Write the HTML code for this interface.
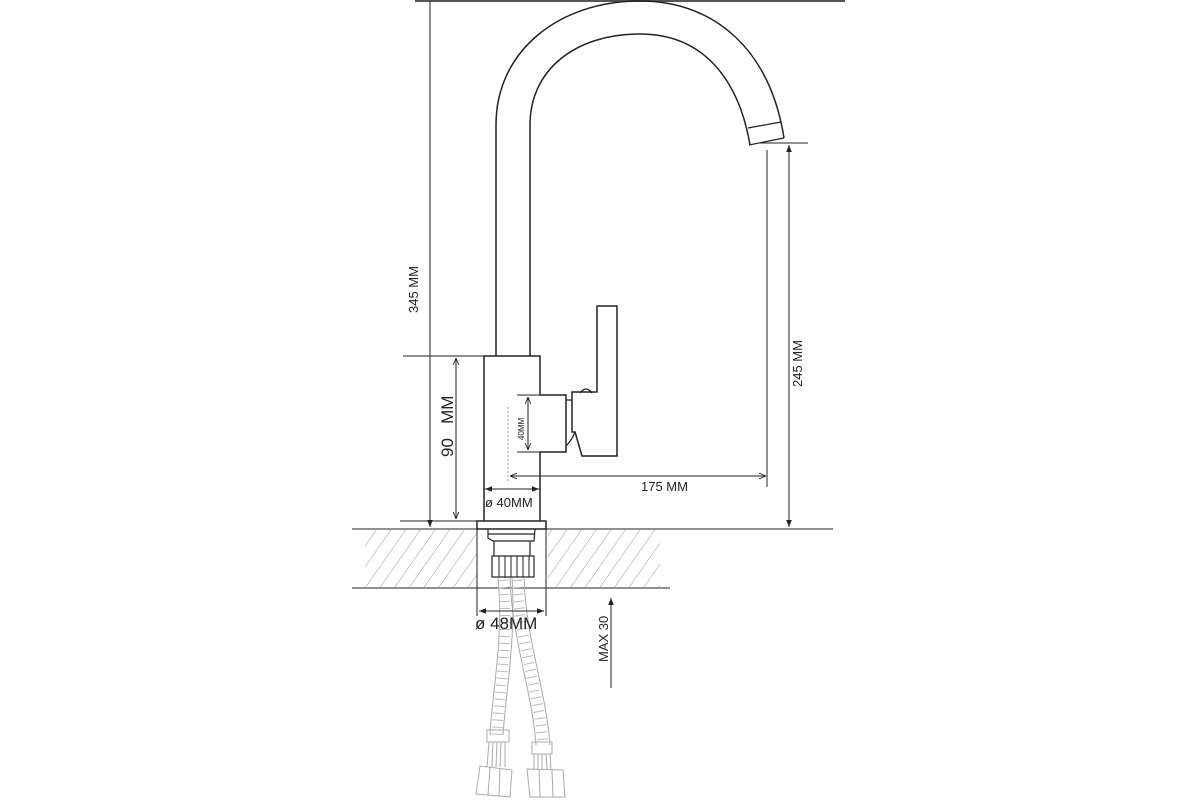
<!DOCTYPE html>
<html><head><meta charset="utf-8"><style>
html,body{margin:0;padding:0;background:#fff;width:1200px;height:800px;overflow:hidden}
svg{display:block}
text{font-family:"Liberation Sans",Arial,sans-serif;fill:#222}
</style></head><body>
<svg width="1200" height="800" viewBox="0 0 1200 800" xmlns="http://www.w3.org/2000/svg">
<defs>
<marker id="a" viewBox="0 0 10 10" refX="10" refY="5" markerWidth="7" markerHeight="7" orient="auto-start-reverse"><path d="M0,1 L10,5 L0,9 z" fill="#222"/></marker>
<marker id="o" viewBox="0 0 10 10" refX="10" refY="5" markerWidth="7" markerHeight="7" orient="auto-start-reverse"><path d="M0,1 L10,5 L0,9" fill="none" stroke="#222" stroke-width="1.2"/></marker>
<pattern id="h" width="12" height="12" patternUnits="userSpaceOnUse" patternTransform="rotate(35)"><line x1="0" y1="0" x2="0" y2="12" stroke="#999" stroke-width="1"/></pattern>
</defs>
<g fill="none" stroke="#222" stroke-width="1">
<!-- hatching -->
<rect x="365" y="530" width="112" height="57" fill="url(#h)" stroke="none"/>
<rect x="548" y="530" width="112" height="57" fill="url(#h)" stroke="none"/>
<line x1="352" y1="529" x2="833" y2="529"/>
<line x1="352" y1="588" x2="670" y2="588"/>
<!-- top line -->
<line x1="415" y1="1" x2="845" y2="1" stroke="#555" stroke-width="2"/>
<!-- spout -->
<path d="M496,356 L496,125 C496,50 560,1 640,1 C715,1 770,50 784,138" stroke-width="1.5"/>
<path d="M530,356 L530,125 C530,70 575,34 640,34 C700,34 738,75 750,145" stroke-width="1.5"/>
<path d="M749,145 L784,138 M748,128 L781,122" stroke-width="1.2"/>
<!-- body -->
<path d="M484,521 L484,356 L540,356 L540,395 L566,395 L566,452 L540,452 L540,521" stroke-width="1.5"/>
<!-- handle -->
<path d="M597,392 L597,306 L617,306 L617,456 L582,456 L575,432 L572,432 L572,392 Z" stroke-width="1.5"/>
<path d="M566,400 L572,400 M566,446 Q572,440 575,432" stroke-width="1.2"/>
<path d="M580,393 Q586,385 592,393" stroke-width="1.2"/>
<!-- base -->
<rect x="477" y="521" width="69" height="8" stroke-width="1.5"/>
<path d="M488,529 L488,538 L493,541 L534,541 L535,529 M488,534 L535,534" stroke-width="1.2"/>
<path d="M494,541 L494,556 M530,541 L530,556" stroke-width="1.2"/>
<rect x="492" y="556" width="42" height="21" stroke-width="1.2"/>
<path d="M499,556v21 M505,556v21 M511,556v21 M517,556v21 M523,556v21 M529,556v21" stroke-width="1"/>
<!-- hoses -->
<g stroke="#aaa">
<path d="M498,578 C504,640 492,690 490,735"/>
<path d="M512,578 C516,640 506,690 503,735"/>
<path d="M510,578 C512,640 532,690 536,745"/>
<path d="M524,578 C526,640 546,690 550,745"/>
<path d="M496,580 C502,640 492,690 490,735" stroke-width="11" stroke="#bbb" stroke-dasharray="1 6" transform="translate(7,0)"/>
<path d="M517,580 C519,640 539,690 543,745" stroke-width="11" stroke="#bbb" stroke-dasharray="1 6"/>
<rect x="487" y="730" width="22" height="12"/>
<rect x="532" y="742" width="20" height="12"/>
<path d="M489,742 L487,767 M493,742 L492,767 M497,742 L496,767 M501,742 L500,767 M505,742 L505,767"/>
<path d="M534,754 L534,770 M538,754 L538,770 M542,754 L542,770 M546,754 L547,770 M550,754 L551,770"/>
<path d="M480,766 L512,770 L510,797 L476,794 Z M490,767 L488,795 M500,768 L499,796"/>
<path d="M527,769 L563,770 L565,797 L530,797 Z M539,770 L540,797 M552,770 L553,797"/>
</g>
<!-- dims -->
<line x1="430" y1="1" x2="430" y2="527" marker-end="url(#a)"/>
<line x1="403" y1="356" x2="484" y2="356"/>
<line x1="400" y1="521" x2="477" y2="521"/>
<line x1="456" y1="358" x2="456" y2="519" marker-start="url(#o)" marker-end="url(#o)"/>
<line x1="760" y1="143" x2="808" y2="143"/>
<line x1="789" y1="145" x2="789" y2="527" marker-start="url(#a)" marker-end="url(#a)"/>
<line x1="767" y1="150" x2="767" y2="487"/>
<line x1="510" y1="476" x2="766" y2="476" marker-start="url(#o)" marker-end="url(#o)"/>
<line x1="508" y1="407" x2="508" y2="482" stroke="#999" stroke-dasharray="2 2"/>
<line x1="517" y1="395" x2="540" y2="395"/>
<line x1="517" y1="452" x2="540" y2="452"/>
<line x1="528" y1="397" x2="528" y2="450" marker-start="url(#o)" marker-end="url(#o)"/>
<line x1="485" y1="489" x2="539" y2="489" marker-start="url(#a)" marker-end="url(#a)"/>
<line x1="477" y1="529" x2="477" y2="616"/>
<line x1="546" y1="529" x2="546" y2="616"/>
<line x1="479" y1="611" x2="544" y2="611" marker-start="url(#a)" marker-end="url(#a)"/>
<line x1="611" y1="688" x2="611" y2="598" marker-end="url(#a)"/>
</g>
<g>
<text x="0" y="0" font-size="13" transform="translate(418,313) rotate(-90)">345 MM</text>
<text x="0" y="0" font-size="17" transform="translate(453,457) rotate(-90)">90&#160;&#160;&#160;MM</text>
<text x="0" y="0" font-size="13" transform="translate(802,387) rotate(-90)">245 MM</text>
<text x="0" y="0" font-size="8" transform="translate(524,440) rotate(-90)">40MM</text>
<text x="641" y="491" font-size="13">175 MM</text>
<text x="485" y="507" font-size="13">ø 40MM</text>
<text x="475" y="629" font-size="17">ø 48MM</text>
<text x="0" y="0" font-size="13" transform="translate(608,662) rotate(-90)">MAX 30</text>
</g>
</svg>
</body></html>
